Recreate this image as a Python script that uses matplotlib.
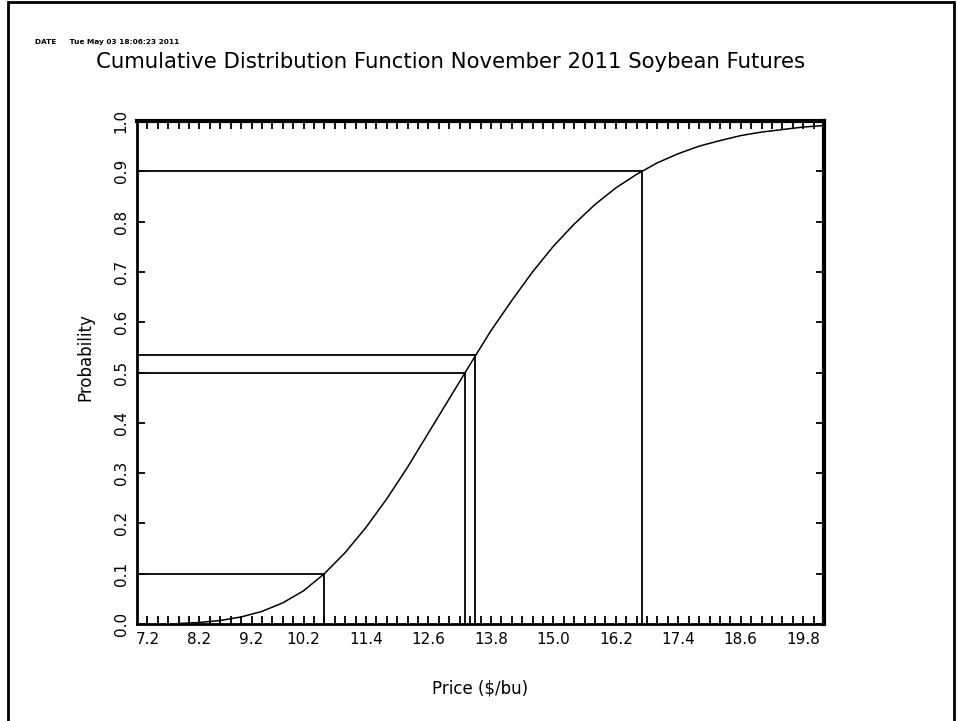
"""
Cumulative Distribution Function - November 2011 Soybean Futures
"""

import matplotlib
matplotlib.use("Agg")
import matplotlib.pyplot as plt
from matplotlib.patches import Rectangle

matplotlib.rcParams['font.family'] = ['DejaVu Sans']

# 曲线 (价格, 累积概率)
price = [7.8, 8.2, 8.6, 9.0, 9.4, 9.8, 10.2, 10.6, 11.0, 11.4, 11.8, 12.2,
         12.6, 13.0, 13.4, 13.8, 14.2, 14.6, 15.0, 15.4, 15.8, 16.2, 16.6,
         17.0, 17.4, 17.8, 18.2, 18.6, 19.0, 19.4, 19.8, 20.2]
prob = [0.001, 0.003, 0.007, 0.014, 0.025, 0.042, 0.066, 0.100, 0.142, 0.192,
        0.249, 0.312, 0.380, 0.448, 0.516, 0.583, 0.643, 0.700, 0.751, 0.795,
        0.834, 0.867, 0.894, 0.917, 0.935, 0.950, 0.961, 0.971, 0.978, 0.983,
        0.988, 0.991]

# 参考线 (价格, 概率)
ref_price = [10.6, 13.3, 13.5, 16.7]
ref_prob = [0.10, 0.50, 0.535, 0.90]

x_ticks = [7.2, 8.2, 9.2, 10.2, 11.4, 12.6, 13.8, 15.0, 16.2, 17.4, 18.6, 19.8]
y_ticks = [0.0, 0.1, 0.2, 0.3, 0.4, 0.5, 0.6, 0.7, 0.8, 0.9, 1.0]

X_MIN, X_MAX = 7.0, 20.2

fig = plt.figure(figsize=(9.57, 7.21), dpi=100)
ax = fig.add_axes([137 / 957, 97 / 721, 687 / 957, 503 / 721])

ax.plot(price, prob, color="black", linewidth=1.1)

for xp, yp in zip(ref_price, ref_prob):
    ax.plot([X_MIN, xp], [yp, yp], color="black", linewidth=1.3)
    ax.plot([xp, xp], [0, yp], color="black", linewidth=1.3)

ax.set_xlim(X_MIN, X_MAX)
ax.set_ylim(0, 1.0)

# 刻度
ax.set_xticks(x_ticks)
ax.set_xticklabels([f"{v:.1f}" for v in x_ticks], fontsize=11)
minor_x = [round(X_MIN + 0.2 * i, 1) for i in range(1, 66)]
ax.set_xticks(minor_x, minor=True)
ax.set_yticks(y_ticks)
ax.set_yticklabels([f"{v:.1f}" for v in y_ticks], fontsize=11, rotation=90,
                   va="center")

ax.tick_params(axis="x", which="both", direction="in", top=True, bottom=True,
               length=6, width=1.3, pad=6)
ax.tick_params(axis="y", which="both", direction="in", left=True, right=True,
               length=6, width=1.3, pad=6)

for side in ["left", "bottom"]:
    ax.spines[side].set_linewidth(2)
for side in ["top", "right"]:
    ax.spines[side].set_linewidth(3)

ax.set_xlabel("Price ($/bu)", fontsize=12)
ax.xaxis.set_label_coords(0.5, -0.11)
ax.set_ylabel("Probability", fontsize=12)
ax.yaxis.set_label_coords(-0.062, 0.53)

fig.text(451 / 957, 1 - 62 / 721,
         "Cumulative Distribution Function November 2011 Soybean Futures",
         ha="center", va="center", fontsize=15.3)
fig.text(35 / 957, 1 - 42 / 721, "DATE     Tue May 03 18:06:23 2011",
         ha="left", va="center", fontsize=5.3, fontweight="bold")

# 外框
fig.patches.append(Rectangle((8 / 957, -0.05), 946 / 957, 1.05 - 2 / 721,
                             transform=fig.transFigure, fill=False,
                             edgecolor="black", linewidth=2))

plt.savefig("out.png", dpi=100)
plt.close()
print("Saved: out.png")
